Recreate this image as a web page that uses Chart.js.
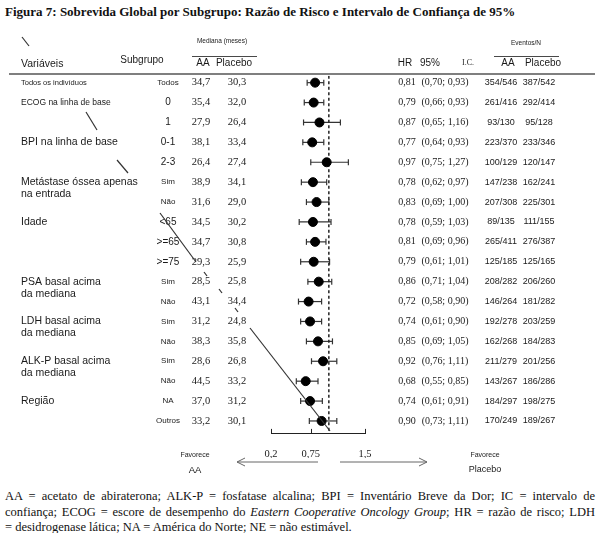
<!DOCTYPE html>
<html>
<head>
<meta charset="utf-8">
<script src="https://cdn.jsdelivr.net/npm/chart.js@4"></script>
<style>
  body { margin: 0; background: #fff; width: 600px; height: 533px; overflow: hidden; position: relative; }
  #title { position: absolute; left: 5px; top: 4px; font: bold 13px "Liberation Serif", "Times New Roman", serif; color: #111; white-space: nowrap; }
  #chartBox { position: absolute; left: 0; top: 0; width: 600px; height: 480px; }
  #notes { position: absolute; left: 5px; top: 489px; width: 590px; font: 12.5px "Liberation Serif", "Times New Roman", serif; color: #111; line-height: 15.5px; }
  #notes div { text-align: justify; text-align-last: justify; white-space: nowrap; }
  #notes div.last { text-align-last: left; }
</style>
</head>
<body>
<div id="title">Figura 7: Sobrevida Global por Subgrupo: Razão de Risco e Intervalo de Confiança de 95%</div>
<div id="chartBox"><canvas id="forest" width="600" height="480"></canvas></div>
<div id="notes">
  <div>AA = acetato de abiraterona; ALK-P = fosfatase alcalina; BPI = Inventário Breve da Dor; IC = intervalo de</div>
  <div>confiança; ECOG = escore de desempenho do <i>Eastern Cooperative Oncology Group</i>; HR = razão de risco; LDH</div>
  <div class="last">= desidrogenase lática; NA = América do Norte; NE = não estimável.</div>
</div>
<script>
"use strict";

// Data
var variables = ['Todos os indivíduos', 'ECOG na linha de base', '', 'BPI na linha de base', '',
    'Metástase óssea apenas\nna entrada', '', 'Idade', '', '', 'PSA basal acima\nda mediana', '',
    'LDH basal acima\nda mediana', '', 'ALK-P basal acima\nda mediana', '', 'Região', ''];
var subgroups = ['Todos', '0', '1', '0-1', '2-3', 'Sim', 'Não', '<65', '>=65', '>=75',
    'Sim', 'Não', 'Sim', 'Não', 'Sim', 'Não', 'NA', 'Outros'];
var medianAA = [34.7, 35.4, 27.9, 38.1, 26.4, 38.9, 31.6, 34.5, 34.7, 29.3, 28.5, 43.1, 31.2, 38.3, 28.6, 44.5, 37.0, 33.2];
var medianPlacebo = [30.3, 32.0, 26.4, 33.4, 27.4, 34.1, 29.0, 30.2, 30.8, 25.9, 25.8, 34.4, 24.8, 35.8, 26.8, 33.2, 31.2, 30.1];
var hazardRatio = [0.81, 0.79, 0.87, 0.77, 0.97, 0.78, 0.83, 0.78, 0.81, 0.79, 0.86, 0.72, 0.74, 0.85, 0.92, 0.68, 0.74, 0.90];
var ciLower = [0.70, 0.66, 0.65, 0.64, 0.75, 0.62, 0.69, 0.59, 0.69, 0.61, 0.71, 0.58, 0.61, 0.69, 0.76, 0.55, 0.61, 0.73];
var ciUpper = [0.93, 0.93, 1.16, 0.93, 1.27, 0.97, 1.00, 1.03, 0.96, 1.01, 1.04, 0.90, 0.90, 1.05, 1.11, 0.85, 0.91, 1.11];
var eventsAA = [354, 261, 93, 223, 100, 147, 207, 89, 265, 125, 208, 146, 192, 162, 211, 143, 184, 170];
var totalAA = [546, 416, 130, 370, 129, 238, 308, 135, 411, 185, 282, 264, 278, 268, 279, 267, 297, 249];
var eventsPlacebo = [387, 292, 95, 233, 120, 162, 225, 111, 276, 125, 206, 181, 203, 184, 201, 186, 198, 189];
var totalPlacebo = [542, 414, 128, 346, 147, 241, 301, 155, 387, 165, 260, 282, 259, 283, 256, 286, 275, 267];
var xTicks = [0.2, 0.75, 1.5];
var referenceHR = 1;

var SANS = '"Liberation Sans", Arial, sans-serif';
var SERIF = '"Liberation Serif", "Times New Roman", serif';
var INK = '#1a1a1a';

var comma = function (v, d) { return v.toFixed(d).replace('.', ','); };

var rowY = function (chart, i) { return chart.scales.y.getPixelForValue(i + 1); };

var text = function (ctx, str, x, y, size, family, align, weight) {
    ctx.font = (weight || 'normal') + ' ' + size + 'px ' + family;
    ctx.textAlign = align || 'left';
    ctx.textBaseline = 'middle';
    ctx.fillText(str, x, y);
};

var line = function (ctx, x1, y1, x2, y2) {
    ctx.beginPath();
    ctx.moveTo(x1, y1);
    ctx.lineTo(x2, y2);
    ctx.stroke();
};

// Confidence interval whiskers, drawn under the points
var whiskerPlugin = {
    id: 'whiskers',
    beforeDatasetsDraw: function (chart) {
        var ctx = chart.ctx, xs = chart.scales.x;
        ctx.save();
        ctx.strokeStyle = '#333';
        ctx.lineWidth = 1.2;
        hazardRatio.forEach(function (hr, i) {
            var y = rowY(chart, i);
            var x1 = xs.getPixelForValue(ciLower[i]);
            var x2 = xs.getPixelForValue(ciUpper[i]);
            line(ctx, x1, y, x2, y);
            line(ctx, x1, y - 3, x1, y + 3);
            line(ctx, x2, y - 3, x2, y + 3);
        });
        ctx.restore();
    }
};

// Table columns, headers and the favours arrows
var tablePlugin = {
    id: 'table',
    afterDraw: function (chart) {
        var ctx = chart.ctx, xs = chart.scales.x;
        ctx.save();
        ctx.fillStyle = INK;
        ctx.strokeStyle = INK;

        // header
        text(ctx, 'Variáveis', 21, 64, 10.5, SANS);
        text(ctx, 'Subgrupo', 142, 60, 10, SANS, 'center');
        text(ctx, 'Mediana (meses)', 222, 41, 6.5, SANS, 'center');
        text(ctx, 'AA', 203, 63, 10, SANS, 'center');
        text(ctx, 'Placebo', 234, 63, 10, SANS, 'center');
        text(ctx, 'HR', 405, 63, 10, SANS, 'center');
        text(ctx, '95%', 430, 63, 10, SANS, 'center');
        text(ctx, 'I.C.', 468, 63, 8, SERIF, 'center');
        text(ctx, 'Eventos/N', 526, 43, 6.5, SANS, 'center');
        text(ctx, 'AA', 508, 63, 10, SANS, 'center');
        text(ctx, 'Placebo', 543, 63, 10, SANS, 'center');
        ctx.lineWidth = 0.8;
        line(ctx, 192, 56.5, 257, 56.5);
        line(ctx, 494, 56.5, 559, 56.5);
        ctx.strokeStyle = '#555';
        ctx.lineWidth = 1.6;
        line(ctx, 9, 74, 595, 74);

        // rows
        subgroups.forEach(function (sg, i) {
            var y = rowY(chart, i);
            if (variables[i]) {
                var small = i < 2;
                var parts = variables[i].split('\n');
                parts.forEach(function (p, k) {
                    text(ctx, p, 21, y + k * 12, small ? (i === 0 ? 7.5 : 8.5) : 10.5, SANS);
                });
            }
            var shortLabel = /^[A-Za-zã]+$/.test(sg);
            text(ctx, sg, 168, y, shortLabel ? 8 : 10, SANS, 'center');
            text(ctx, comma(medianAA[i], 1), 201, y, 10.5, SERIF, 'center');
            text(ctx, comma(medianPlacebo[i], 1), 237, y, 10.5, SERIF, 'center');
            text(ctx, comma(hazardRatio[i], 2), 407, y, 10, SERIF, 'center');
            text(ctx, '(' + comma(ciLower[i], 2) + '; ' + comma(ciUpper[i], 2) + ')', 445, y, 10, SERIF, 'center');
            text(ctx, eventsAA[i] + '/' + totalAA[i], 501, y, 9, SANS, 'center');
            text(ctx, eventsPlacebo[i] + '/' + totalPlacebo[i], 539, y, 9, SANS, 'center');
        });

        // small upward tick marks on the HR axis
        var axisY = chart.chartArea.bottom;
        ctx.strokeStyle = '#222';
        ctx.lineWidth = 1;
        xTicks.forEach(function (v) {
            var x = Math.round(xs.getPixelForValue(v)) + 0.5;
            line(ctx, x, axisY, x, axisY - 5);
        });

        // favours labels and arrows
        ctx.fillStyle = INK;
        text(ctx, 'Favorece', 195, 455, 7, SANS, 'center');
        text(ctx, 'AA', 195, 470, 9.5, SANS, 'center');
        text(ctx, 'Favorece', 485, 455, 7, SANS, 'center');
        text(ctx, 'Placebo', 485, 470, 9, SANS, 'center');
        ctx.strokeStyle = '#666';
        ctx.lineWidth = 1;
        line(ctx, 318, 462, 237, 462);
        line(ctx, 237, 462, 245, 458);
        line(ctx, 237, 462, 245, 466);
        line(ctx, 340, 462, 427, 462);
        line(ctx, 427, 462, 419, 458);
        line(ctx, 427, 462, 419, 466);

        // pen strokes on the scanned page
        ctx.strokeStyle = '#333';
        ctx.lineWidth = 1.2;
        line(ctx, 22, 37, 29, 46);
        line(ctx, 86, 112, 97, 130);
        line(ctx, 117, 160, 128, 173);
        line(ctx, 160, 213, 196, 262);
        line(ctx, 204, 272, 207, 276);
        line(ctx, 219, 289, 222, 293);
        line(ctx, 235, 308, 238, 312);
        line(ctx, 250, 328, 330, 431);
        ctx.restore();
    }
};

var config = {
    type: 'scatter',
    data: {
        datasets: [{
            label: 'HR',
            data: hazardRatio.map(function (v, i) { return { x: v, y: i + 1 }; }),
            backgroundColor: '#000',
            borderColor: '#000',
            pointRadius: 4.5,
            pointHoverRadius: 4.5,
        }, {
            type: 'line',
            label: 'HR = 1',
            data: [{ x: referenceHR, y: 0.65 }, { x: referenceHR, y: 18.65 }],
            borderColor: '#222',
            borderWidth: 1.5,
            borderDash: [3, 2.5],
            pointRadius: 0,
            fill: false,
        }],
    },
    options: {
        responsive: false,
        animation: false,
        devicePixelRatio: 1,
        layout: {
            padding: { left: 271, right: 235, top: 75.7, bottom: 22.1 }
        },
        scales: {
            x: {
                type: 'linear',
                min: 0.2,
                max: 1.5,
                afterBuildTicks: function (scale) {
                    scale.ticks = xTicks.map(function (v) { return { value: v }; });
                },
                afterFit: function (scale) {
                    scale.height = 24;
                },
                grid: { display: false },
                border: { display: true, color: '#222', width: 1 },
                ticks: {
                    autoSkip: false,
                    maxRotation: 0,
                    padding: 6,
                    color: INK,
                    font: { family: SERIF, size: 10.5 },
                    callback: function (v) { return comma(v, v === 0.75 ? 2 : 1); }
                }
            },
            y: {
                type: 'linear',
                display: false,
                reverse: true,
                min: 0.65,
                max: 18.65,
            }
        },
        plugins: {
            legend: { display: false },
            tooltip: { enabled: false }
        }
    },
    plugins: [whiskerPlugin, tablePlugin]
};

new Chart(document.getElementById('forest').getContext('2d'), config);
</script>
</body>
</html>
